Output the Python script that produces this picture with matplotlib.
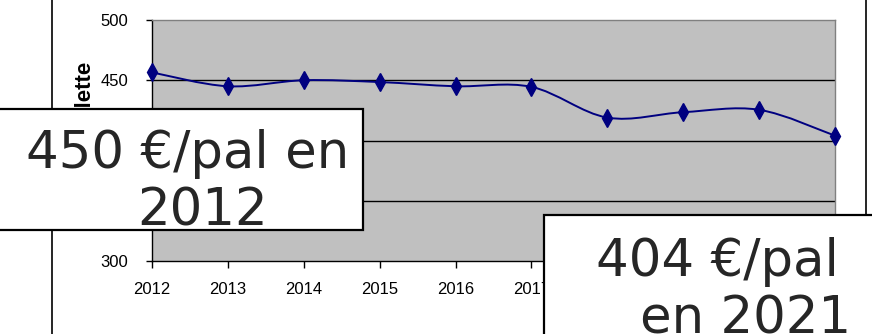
import matplotlib
matplotlib.use("Agg")
import matplotlib.pyplot as plt
from matplotlib import font_manager
from matplotlib.path import Path
from matplotlib.patches import PathPatch, Rectangle
from matplotlib.lines import Line2D

# prix moyen en euros par palette
years = [2012, 2013, 2014, 2015, 2016, 2017, 2018, 2019, 2020, 2021]
prices = [456.5, 445, 450, 448.5, 445, 444.5, 419, 423.5, 425.5, 404]
y_ticks = [300, 350, 400, 450, 500]
y_label = "€ / palette"
note_left = ["450 €/pal en", "2012"]
note_right = ["404 €/pal", "en 2021"]

W, H = 872, 334


def fx(px):
    return px / W


def fy(py):
    return 1 - py / H


names = {f.name for f in font_manager.fontManager.ttflist}
if "Liberation Sans Narrow" in names:
    tick_font, tick_size = "Liberation Sans Narrow", 14
else:
    tick_font, tick_size = "Liberation Sans", 12

navy = "#000080"

fig = plt.figure(figsize=(W / 100, H / 100), dpi=100)
ax = fig.add_axes([fx(152), 73 / H, 683 / W, 241 / H])
ax.set_facecolor("#c0c0c0")
ax.set_xlim(years[0], years[-1])
ax.set_ylim(y_ticks[0], y_ticks[-1])
ax.set_xticks(years)
ax.set_yticks(y_ticks)

ax.yaxis.grid(True, color="black", lw=1)
ax.get_ygridlines()[0].set_visible(False)
ax.get_ygridlines()[-1].set_visible(False)
ax.set_axisbelow(True)

for side in ["left", "bottom"]:
    ax.spines[side].set_color("black")
    ax.spines[side].set_linewidth(1)
for side in ["top", "right"]:
    ax.spines[side].set_color("#808080")
    ax.spines[side].set_linewidth(1)

ax.tick_params(axis="y", direction="out", length=4, width=1, pad=13,
               labelsize=tick_size, labelfontfamily=tick_font)
ax.tick_params(axis="x", direction="out", length=5, width=1, pad=10,
               labelsize=tick_size, labelfontfamily=tick_font)

# smoothed line (bezier through the points, like the spreadsheet)
pts = list(zip(years, prices))
verts = [pts[0]]
codes = [Path.MOVETO]
for i in range(len(pts) - 1):
    p0 = pts[max(i - 1, 0)]
    p1 = pts[i]
    p2 = pts[i + 1]
    p3 = pts[min(i + 2, len(pts) - 1)]
    c1 = (p1[0] + (p2[0] - p0[0]) / 6, p1[1] + (p2[1] - p0[1]) / 6)
    c2 = (p2[0] - (p3[0] - p1[0]) / 6, p2[1] - (p3[1] - p1[1]) / 6)
    verts += [c1, c2, p2]
    codes += [Path.CURVE4] * 3
ax.add_patch(PathPatch(Path(verts, codes), fill=False, edgecolor=navy,
                       lw=1.4, zorder=3))
ax.plot(years, prices, ls="none", marker="d", ms=9, color=navy,
        clip_on=False, zorder=4)

# frame lines of the slide
fig.add_artist(Line2D([fx(51.5)] * 2, [0, 1], color="black", lw=1.2,
                      transform=fig.transFigure, zorder=1))
fig.add_artist(Line2D([fx(866)] * 2, [0, 1], color="black", lw=1.2,
                      transform=fig.transFigure, zorder=1))

fig.text(fx(85), fy(62), y_label, rotation=90, ha="center", va="top",
         fontweight="bold", fontsize=16, family=tick_font, zorder=2)

# annotation boxes
fig.add_artist(Rectangle((fx(-5), fy(230)), fx(368), 121 / H,
                         transform=fig.transFigure, facecolor="white",
                         edgecolor="black", lw=1.6, zorder=5))
fig.add_artist(Rectangle((fx(544), fy(345)), fx(340), 130 / H,
                         transform=fig.transFigure, facecolor="white",
                         edgecolor="black", lw=1.6, zorder=5))

txt = dict(ha="center", va="baseline", fontsize=37, color="#262626",
           family="DejaVu Sans", zorder=6)
fig.text(fx(188), fy(168), note_left[0], **txt)
fig.text(fx(203), fy(225), note_left[1], **txt)
fig.text(fx(717), fy(276), note_right[0], **txt)
fig.text(fx(746), fy(333), note_right[1], **txt)

fig.savefig("out.png", dpi=100)
